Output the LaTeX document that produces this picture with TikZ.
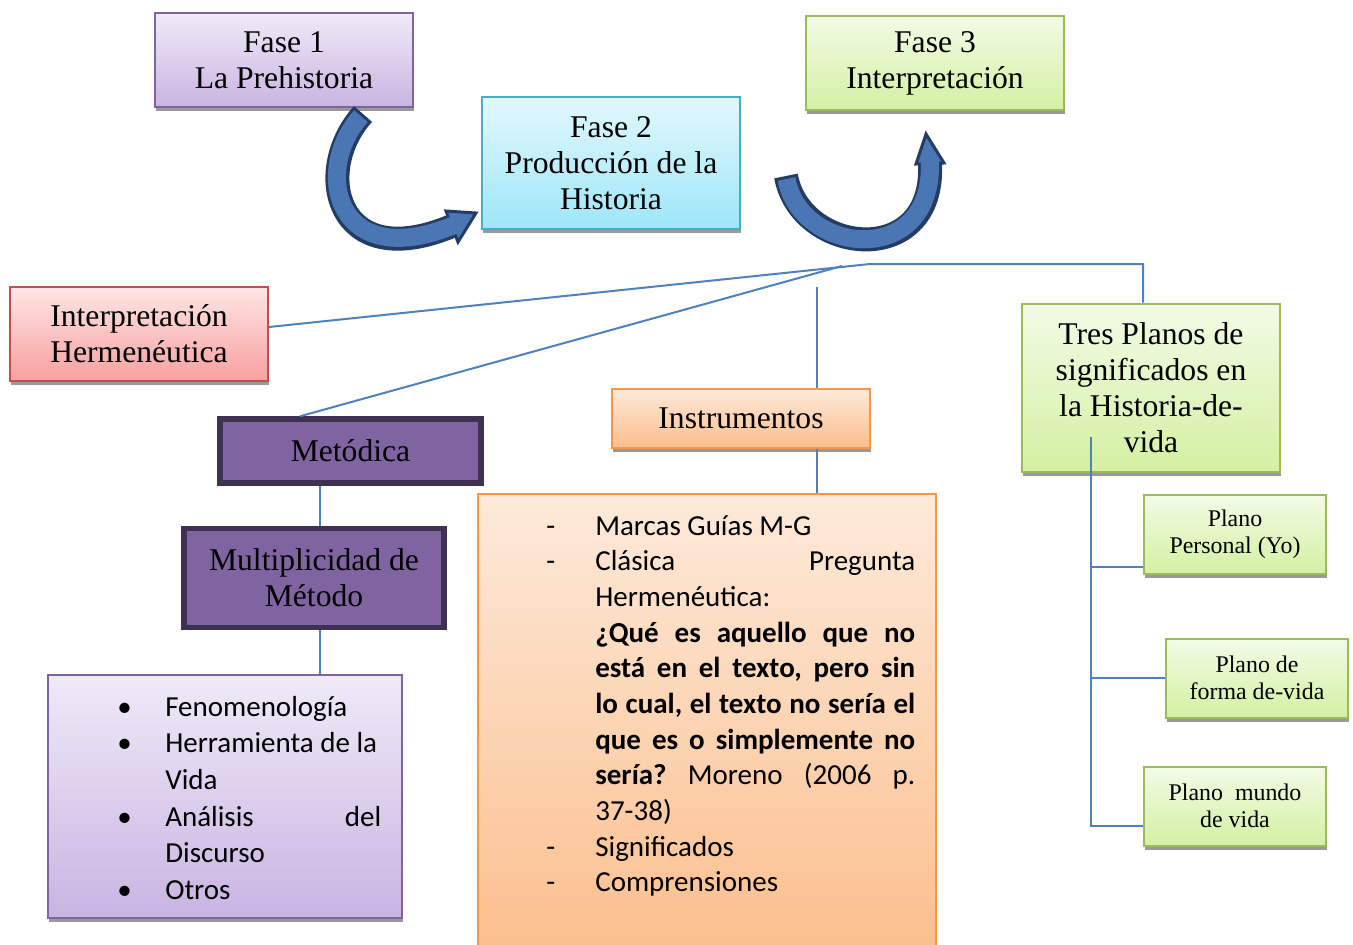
\documentclass[tikz,border=0pt]{standalone}
\usepackage{fontspec}
\setmainfont{Liberation Serif}
\newfontfamily\calibri{Carlito}
\usepackage{xcolor}
\usepackage{tikz}
\usetikzlibrary{arrows.meta}
\usetikzlibrary{shadows}
\usetikzlibrary{positioning}
\frenchspacing

\definecolor{LinkBlue}{RGB}{79,129,189}
\definecolor{ArrowDark}{RGB}{36,60,98}
\definecolor{ArrowBlue}{RGB}{74,118,180}
\definecolor{LilacLine}{RGB}{128,100,162}
\definecolor{LilacTop}{RGB}{240,234,248}
\definecolor{LilacBot}{RGB}{200,180,226}
\definecolor{CyanLine}{RGB}{75,172,198}
\definecolor{CyanTop}{RGB}{226,248,253}
\definecolor{CyanBot}{RGB}{158,230,248}
\definecolor{GreenLine}{RGB}{155,187,89}
\definecolor{GreenTop}{RGB}{242,251,230}
\definecolor{GreenBot}{RGB}{212,240,162}
\definecolor{RedLine}{RGB}{192,80,77}
\definecolor{RedTop}{RGB}{255,230,230}
\definecolor{RedBot}{RGB}{246,160,158}
\definecolor{OrangeLine}{RGB}{247,150,70}
\definecolor{OrangeTop}{RGB}{253,234,218}
\definecolor{OrangeBot}{RGB}{251,190,140}
\definecolor{MetFill}{RGB}{128,100,162}
\definecolor{MetLine}{RGB}{63,49,81}

\newcommand\jl[1]{\makebox[\linewidth][s]{#1}}

\tikzset{
  PhaseBox/.style={
    rectangle, line width=0.04cm,
    minimum width=5.16cm, minimum height=1.9cm,
    align=center, font=\fontsize{18}{20.5}\selectfont,
    drop shadow={shadow xshift=0.02cm, shadow yshift=-0.08cm, fill=black!40, opacity=1},
  },
  PlaneBox/.style={
    PhaseBox, Green, minimum width=3.64cm, minimum height=1.58cm,
    font=\fontsize{13.6}{15.4}\selectfont,
  },
  DarkBox/.style={
    rectangle, fill=MetFill, draw=MetLine, line width=0.11cm,
    align=center, font=\fontsize{18}{20.5}\selectfont,
  },
  ListText/.style={
    anchor=north west, inner sep=0pt, align=left,
  },
  Lilac/.style={draw=LilacLine, top color=LilacTop, bottom color=LilacBot},
  Cyan/.style={draw=CyanLine, top color=CyanTop, bottom color=CyanBot},
  Green/.style={draw=GreenLine, top color=GreenTop, bottom color=GreenBot},
  Red/.style={draw=RedLine, top color=RedTop, bottom color=RedBot},
  Orange/.style={draw=OrangeLine, top color=OrangeTop, bottom color=OrangeBot},
  Link/.style={draw=LinkBlue, line width=0.04cm},
  Band/.style={draw=ArrowDark, line width=0.48cm},
  BandFill/.style={draw=ArrowBlue, line width=0.36cm},
  BandHead/.style={fill=ArrowBlue, draw=ArrowDark, line width=0.06cm, line join=miter},
}

\begin{document}
\begin{tikzpicture}[x=0.02cm, y=-0.02cm]
\fill[white] (0,0) rectangle (1353,944);
\useasboundingbox (0,0) rectangle (1353,944);

% fases
\node[PhaseBox, Lilac] (F1) at (284,60) {Fase 1\\La Prehistoria};
\node[PhaseBox, Cyan, minimum height=2.64cm] (F2) at (611,163) {Fase 2\\Producción de la\\Historia};
\node[PhaseBox, Green] (F3) at (935,63) {Fase 3\\Interpretación};

% curved arrows
\draw[Band] (363,114) .. controls (312,170) and (335,275) .. (452,226);
\filldraw[BandHead] (458,242) -- (476,213) -- (446,211) -- cycle;
\draw[BandFill, shorten <=0.06cm, shorten >=-0.08cm] (363,114) .. controls (312,170) and (335,275) .. (452,226);

\draw[Band] (786,176) .. controls (800,255) and (935,270) .. (930,164);
\filldraw[BandHead] (944,163) -- (926,134) -- (916,164) -- cycle;
\draw[BandFill, shorten <=0.06cm, shorten >=-0.08cm] (786,176) .. controls (800,255) and (935,270) .. (930,164);

% ramas
\node[PhaseBox, Red] (IH) at (139,334) {Interpretación\\Hermenéutica};
\node[DarkBox, minimum width=5.22cm, minimum height=1.28cm] (Met) at (350.5,451) {Metódica};
\node[DarkBox, minimum width=5.2cm, minimum height=1.98cm] (Mult) at (314,578) {Multiplicidad de\\Método};
\node[PhaseBox, Lilac, minimum width=7.08cm, minimum height=4.86cm] (Tec) at (225,796.5) {};
\node[ListText, font=\calibri\fontsize{16.5}{20.9}\selectfont] (TecList) at (117,690) {%
  \begin{tabular}{@{}p{0.96cm}@{}p{4.32cm}@{}}
  • & Fenomenología\\
  • & Herramienta de la\\
    & Vida\\
  • & \jl{Análisis del}\\
    & Discurso\\
  • & Otros
  \end{tabular}};

\node[PhaseBox, Orange, minimum height=1.18cm] (Ins) at (741,418) {Instrumentos};
\node[PhaseBox, Orange, minimum width=9.16cm, minimum height=9.32cm] (Ora) at (707,727) {};
\node[ListText, font=\calibri\fontsize{16.5}{20.3}\selectfont] (OraList) at (546,510) {%
  \begin{tabular}{@{}p{0.98cm}@{}p{6.4cm}@{}}
  - & Marcas Guías M-G\\
  - & \jl{Clásica Pregunta}\\
    & Hermenéutica:\\
    & \jl{\bfseries ¿Qué es aquello que no}\\
    & \jl{\bfseries está en el texto, pero sin}\\
    & \jl{\bfseries lo cual, el texto no sería el}\\
    & \jl{\bfseries que es o simplemente no}\\
    & \jl{\textbf{sería?} Moreno (2006 p.}\\
    & 37-38)\\
  - & Significados\\
  - & Comprensiones
  \end{tabular}};

\node[PhaseBox, Green, minimum height=3.38cm] (TP) at (1151,388) {Tres Planos de\\significados en\\la Historia-de-\\vida};
\node[PlaneBox] (PP) at (1235,534) {Plano\\Personal (Yo)};
\node[PlaneBox] (PF) at (1257,678) {Plano de\\forma de-vida};
\node[PlaneBox] (PM) at (1235,806) {Plano~~mundo\\de vida};

% conectores
\coordinate (JA) at (870,264);
\coordinate (JB) at (842,266);
\coordinate (JC) at (817,287);
\coordinate (JT) at (1091,437);
\coordinate (JM) at ([xshift=0.12cm]Mult.north);
\draw[Link] ([yshift=0.14cm]IH.east) -- (JA) -| ([xshift=-0.16cm]TP.north);
\draw[Link] ([xshift=-1.01cm]Met.north) -- (JB);
\draw[Link] (JC) -- (JC |- Ins.north);
\draw[Link] (JC |- Ins.south) -- (JC |- Ora.north);
\draw[Link] (JM |- Met.south) -- (JM);
\draw[Link] (JM |- Mult.south) -- (JM |- Tec.north);
\draw[Link] (JT) |- ([yshift=-0.65cm]PP.west);
\draw[Link] (JT) |- (PF.west);
\draw[Link] (JT) |- ([yshift=-0.4cm]PM.west);

\end{tikzpicture}
\end{document}
